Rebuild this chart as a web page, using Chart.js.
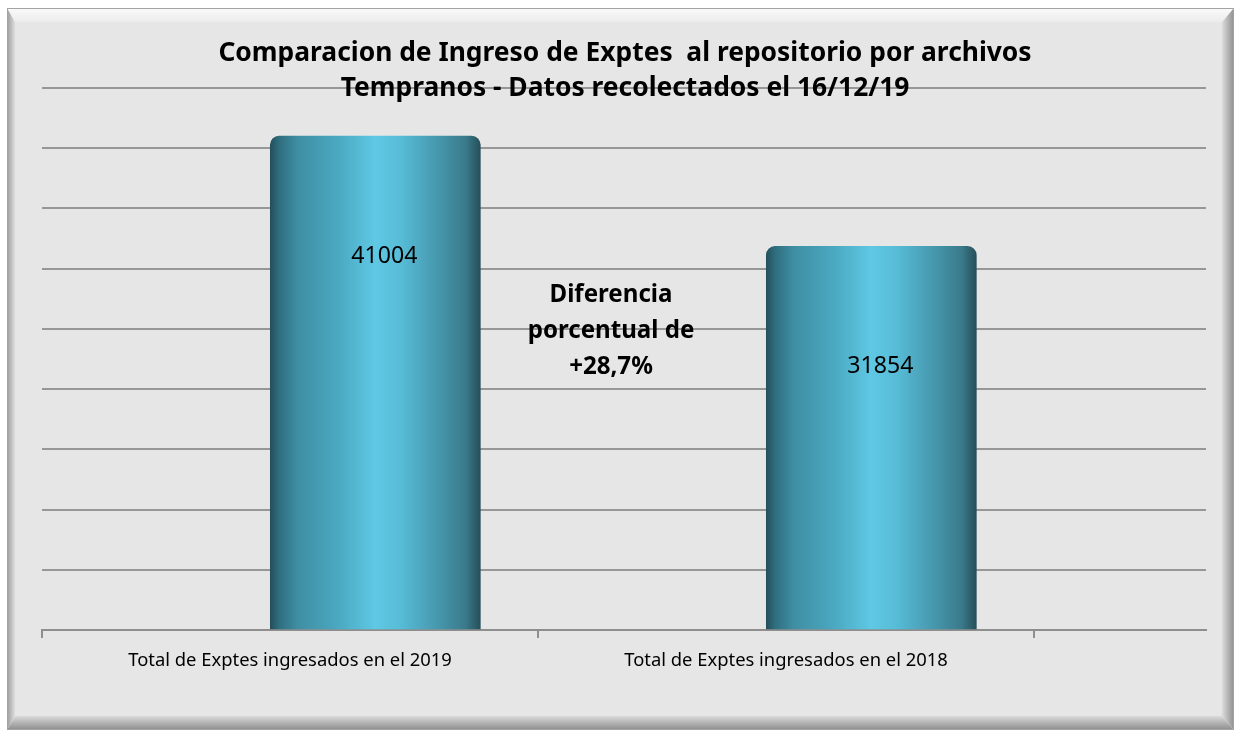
<!DOCTYPE html>
<html>
<head>
<meta charset="utf-8">
<script src="https://cdn.jsdelivr.net/npm/chart.js@4/dist/chart.umd.min.js"></script>
<style>
  html, body { margin: 0; padding: 0; background: #fff; }
  canvas { display: block; }
</style>
</head>
<body>
<canvas id="exptesChart" width="1236" height="731"></canvas>
<script>
// values
const categories = ['Total de Exptes ingresados en el 2019', 'Total de Exptes ingresados en el 2018'];
const expedientes = [41004, 31854];
const yMax = 45000;
const yStep = 5000;
const titleLines = ['Comparacion de Ingreso de Exptes  al repositorio por archivos', 'Tempranos - Datos recolectados el 16/12/19'];
const noteLines = ['Diferencia', 'porcentual de', '+28,7%'];

// layout bits (pixels / category units)
const FONT = '"Noto Sans", "Open Sans", sans-serif';
const CAT_SPAN = 1164 / 496;   // axis runs a bit past the 2nd category
const BAR_SHIFT = 0.172;       // cylinders sit right of the category centre
const BAR_W = 210;

// pick font sizes so text widths come out like the original (Calibri) ones
const meas = document.createElement('canvas').getContext('2d');
function fitSize(text, weight, width){
  meas.font = weight + ' 100px ' + FONT;
  return Math.round(1000 * width / meas.measureText(text).width) / 10;
}
const titleSize = fitSize(titleLines[0], 'bold', 814);
const noteSize = fitSize(noteLines[1], 'bold', 167);
const valueSize = fitSize('41004', 'normal', 66);
const tickSize = fitSize(categories[0], 'normal', 324);

function cylinderFill(ctx){
  const chart = ctx.chart;
  const xs = chart.scales && chart.scales.x;
  if(!xs || ctx.type !== 'data' || !chart.chartArea) return '#4fb0ca';
  const v = ctx.parsed ? ctx.parsed.x : ctx.raw.x;
  const cx = xs.getPixelForValue(v);
  const g = chart.ctx.createLinearGradient(cx - BAR_W/2, 0, cx + BAR_W/2, 0);
  g.addColorStop(0, '#244f5b');
  g.addColorStop(0.04, '#2e6d7e');
  g.addColorStop(0.13, '#3f8ea3');
  g.addColorStop(0.32, '#4aa8c0');
  g.addColorStop(0.5, '#5fc8e4');
  g.addColorStop(0.62, '#57bcd7');
  g.addColorStop(0.8, '#4697ad');
  g.addColorStop(0.93, '#3a7a8b');
  g.addColorStop(1, '#264f5a');
  return g;
}

const framePlugin = {
  id: 'frame',
  beforeDraw(chart){
    const c = chart.ctx;
    const L = 7, T = 8, R = 1234, B = 730;
    const l = 15, t = 22, r = 1222, b = 716;
    c.save();
    c.fillStyle = '#fff';
    c.fillRect(0, 0, chart.width, chart.height);
    const poly = (pts, fill) => {
      c.beginPath();
      c.moveTo(pts[0][0], pts[0][1]);
      pts.slice(1).forEach(p => c.lineTo(p[0], p[1]));
      c.closePath();
      c.fillStyle = fill;
      c.fill();
    };
    let g = c.createLinearGradient(0, T, 0, t);
    g.addColorStop(0, '#fafafa'); g.addColorStop(1, '#ececec');
    poly([[L,T],[R,T],[r,t],[l,t]], g);
    g = c.createLinearGradient(L, 0, l, 0);
    g.addColorStop(0, '#9c9c9c'); g.addColorStop(1, '#dedede');
    poly([[L,T],[l,t],[l,b],[L,B]], g);
    g = c.createLinearGradient(r, 0, R, 0);
    g.addColorStop(0, '#dcdcdc'); g.addColorStop(1, '#8e8e8e');
    poly([[R,T],[R,B],[r,b],[r,t]], g);
    g = c.createLinearGradient(0, b, 0, B);
    g.addColorStop(0, '#dadada'); g.addColorStop(1, '#8c8c8c');
    poly([[L,B],[R,B],[r,b],[l,b]], g);
    c.fillStyle = '#e6e6e6';
    c.fillRect(l, t, r - l, b - t);
    c.strokeStyle = '#a3a3a3';
    c.lineWidth = 1;
    c.strokeRect(L + 0.5, T + 0.5, R - L - 1, B - T - 1);
    c.restore();
  }
};

const textPlugin = {
  id: 'texts',
  afterDatasetsDraw(chart){
    const c = chart.ctx;
    c.save();
    c.fillStyle = '#000';
    c.textAlign = 'center';
    c.textBaseline = 'middle';
    // value labels inside the cylinders
    c.font = valueSize + 'px ' + FONT;
    chart.getDatasetMeta(0).data.forEach((el, i) => {
      c.fillText(String(expedientes[i]), el.x + 9, el.y + 120);
    });
    // free text box between the bars
    c.font = 'bold ' + noteSize + 'px ' + FONT;
    noteLines.forEach((s, i) => c.fillText(s, 611, 295 + i * 36));
    // title
    c.font = 'bold ' + titleSize + 'px ' + FONT;
    titleLines.forEach((s, i) => c.fillText(s, 625, 53 + i * 35));
    c.restore();
  }
};

const ctx = document.getElementById('exptesChart');
const chart = new Chart(ctx, {
  type: 'bar',
  data: {
    datasets: [{
      label: 'Exptes',
      data: expedientes.map((v, i) => ({ x: i + 0.5 + BAR_SHIFT, y: v })),
      backgroundColor: cylinderFill,
      barThickness: BAR_W,
      borderRadius: { topLeft: 9, topRight: 9, bottomLeft: 0, bottomRight: 0 },
      borderSkipped: 'bottom'
    }]
  },
  options: {
    responsive: false,
    animation: false,
    layout: { padding: { left: 42, right: 30, top: 88, bottom: 43 } },
    plugins: { legend: { display: false }, tooltip: { enabled: false }, title: { display: false } },
    scales: {
      y: {
        min: 0, max: yMax,
        ticks: { display: false, stepSize: yStep },
        grid: { color: '#979797', lineWidth: 2, drawTicks: false },
        border: { display: false },
        afterFit: s => { s.width = 0; }
      },
      x: {
        type: 'linear', position: 'bottom', weight: 0,
        min: 0, max: CAT_SPAN, offset: false,
        afterBuildTicks: s => { s.ticks = [0, 1, 2].map(v => ({ value: v })); },
        ticks: { display: false },
        grid: { offset: false, drawOnChartArea: false, drawTicks: true, tickLength: 8, color: '#8e8e8e', lineWidth: 2 },
        border: { color: '#8e8e8e', width: 2 },
        afterFit: s => { s.height = 8; }
      },
      xl: {
        type: 'linear', position: 'bottom', weight: 1,
        min: 0, max: CAT_SPAN, offset: false,
        afterBuildTicks: s => { s.ticks = categories.map((_, i) => ({ value: i + 0.5 })); },
        ticks: {
          autoSkip: false, maxRotation: 0, minRotation: 0, padding: 4,
          color: '#000', font: { family: FONT, size: tickSize },
          callback: (v, i) => categories[i]
        },
        grid: { display: false },
        border: { display: false },
        afterFit: s => { s.height = 50; }
      }
    }
  },
  plugins: [framePlugin, textPlugin]
});
</script>
</body>
</html>
